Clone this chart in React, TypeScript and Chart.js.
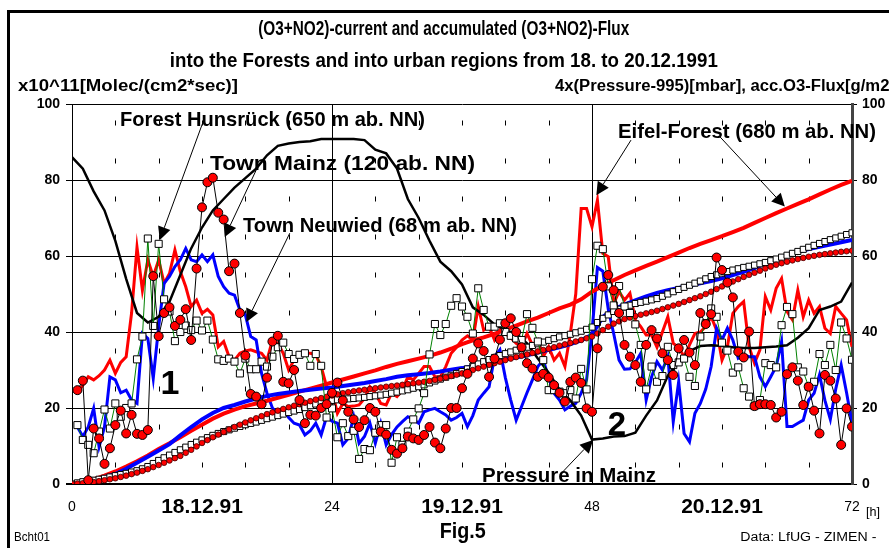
import React, { useEffect, useRef } from 'react';
import { Chart, registerables } from 'chart.js';

Chart.register(...registerables);

const FONT = "'Liberation Sans', Arial, Helvetica, sans-serif";

// ---------- data (hours; values on the 0..100 scale) ----------
// current series: half-hourly from 0.5 h to 72 h
const hoursHalf = Array.from({ length: 144 }, (_, i) => 0.5 + i * 0.5);
// accumulated marker series: half-hourly from 0 h to 72 h
const hoursHalf0 = Array.from({ length: 145 }, (_, i) => i * 0.5);
// hourly series
const hoursFull = Array.from({ length: 73 }, (_, i) => i);

const mainzCurrent = [
  24.7, 27.2, 1, 14.6, 12, 5.3, 9.4, 15.5, 19.3, 13.3, 18.2, 13.2,
  12.9, 14.2, 54.7, 38.9, 45, 46.5, 41.6, 43.2, 46, 37.9, 56.7, 72.8,
  79.4, 80.6, 71.4, 69.6, 56, 58, 45, 33.8, 23.7, 23, 21, 28,
  37.5, 39, 26.9, 26.5, 30, 22.1, 16, 18.2, 18, 20, 21, 24,
  26.7, 22, 19, 17, 15, 16.8, 20, 19, 13.8, 13, 9, 8,
  9.4, 12.5, 12, 11.6, 12.9, 15, 10.9, 9.4, 14.6, 20, 20, 25.2,
  29, 33, 37, 35, 28.2, 33, 38, 42.3, 43.6, 40, 36, 31.8,
  30.4, 28.2, 29, 28, 26, 24, 21.7, 26.9, 28, 26.6, 19.9, 19,
  35.7, 51.9, 55, 51, 45, 36.6, 33.5, 31.3, 26.9, 36.6, 40.5, 38.3,
  34.4, 32.6, 28.7, 35.7, 37.9, 34.6, 31.3, 45, 42.1, 44.7, 59.6, 56.3,
  53, 49.1, 34.8, 33.3, 40.1, 20.5, 21, 21, 20.8, 17.5, 19, 28.9,
  30.7, 27.2, 20.8, 25.6, 19.3, 13.3, 28.7, 27.2, 22.5, 10.3, 19.9, 15.1,
];

const neuwiedCurrent = [
  15.5, 11.6, 10.3, 8.1, 13.8, 19.6, 14.6, 21.2, 17.7, 20, 21.2, 32.8,
  38.8, 64.6, 41.6, 63.2, 48.6, 45.4, 37.6, 40, 41.7, 40.5, 43, 40.4,
  43, 38, 32.8, 32.4, 33, 32.2, 29.1, 33, 30.2, 30.2, 32.2, 30.9,
  33.5, 36, 37.2, 34.2, 32.9, 34, 34.4, 31.1, 34.2, 31.1, 17.5, 19.9,
  12.3, 16, 12.6, 14, 6.6, 9.2, 8.9, 13.5, 15.5, 15.5, 5.6, 12.3,
  10.3, 13.8, 17, 19.9, 23.9, 34.1, 42.1, 39.2, 42.1, 46.9, 48.9, 46.7,
  44, 39.6, 51.5, 45.8, 41.4, 41.4, 42.3, 40, 39, 38.3, 37.9, 44.7,
  41.1, 37.5, 32.6, 24.7, 24.7, 24.3, 23.9, 24.7, 22.5, 30.3, 24.9, 53.9,
  62.7, 61.8, 52, 47, 52.1, 46.7, 45, 42, 36.6, 24.9, 30.9, 26.9,
  28.4, 36.1, 31.3, 32, 33, 28.2, 25.8, 38.8, 42.3, 46.2, 44, 37.2,
  35.1, 29.3, 30.7, 25.2, 23, 20.5, 22.1, 31.8, 31.3, 30.7, 41.8, 46.6,
  44.7, 30.7, 29.6, 25.6, 26.9, 34.2, 31.3, 36.6, 30, 42.5, 38.3, 32.7,
];

const hunsrueckCurrent = [
  15, 12.5, 15, 19.9, 9.8, 15, 28.2, 27.4, 24, 24.7, 22.1, 21.2,
  39.6, 38.3, 27.8, 41.4, 52.8, 54.6, 57.2, 59, 62, 59, 58.5, 60.3,
  58.5, 60.3, 54.6, 51.9, 50.2, 49.7, 45.8, 44.5, 38.8, 37.9, 29.1, 23.9,
  20, 18.6, 19.9, 17.5, 16, 15.5, 12.9, 14, 16, 12.9, 17.7, 16.5,
  16, 10.3, 12, 17.7, 10.7, 12.5, 16, 10.7, 16, 10.3, 13, 15,
  16.4, 17.7, 17, 16, 19, 19.5, 19.9, 19, 18.2, 16.8, 17.5, 18.6,
  15.1, 18, 22.1, 23.9, 25.6, 33.5, 35.3, 28, 22.1, 16.8, 20.4, 24,
  27.4, 30.9, 32.6, 28, 23.9, 22.1, 19.5, 20.5, 21.2, 23.9, 27.4, 40,
  57, 56, 46, 39.6, 32.6, 30.2, 30.3, 32, 34.4, 22.1, 28.2, 32.2,
  30, 33.5, 16.4, 26.9, 13.3, 11.1, 18.6, 21.2, 25, 30.9, 41, 37.9,
  41, 37.9, 33.1, 34, 33.5, 33.5, 28.2, 25.6, 28.2, 30.9, 37.5, 15.1,
  15.1, 16, 16.8, 22.1, 23.9, 28.7, 22, 17, 25, 31.3, 24, 16,
];

const eifelCurrent = [
  23.9, 26, 28.2, 27.4, 28.5, 30, 32.6, 29.1, 32, 33.5, 45, 62.3,
  51, 59, 54.6, 59, 52.8, 55.4, 61.6, 55.9, 51.9, 46.7, 48.4, 44.9,
  46, 44.5, 36.1, 37.5, 33.5, 32.6, 34.4, 35, 35.3, 34.8, 34.4, 32.6,
  37.9, 37, 34.4, 30, 32.6, 34.4, 34.4, 34.4, 34, 30.9, 25.6, 24.7,
  18.6, 21.2, 20.4, 20.5, 20.8, 22.5, 25.6, 23.9, 21.2, 20.8, 23.9, 23,
  24.7, 28.2, 27.4, 29.1, 30.9, 30.9, 28.2, 28.2, 30.9, 34.4, 36, 37.9,
  39, 37.9, 46.7, 40.5, 41.4, 37.9, 40.5, 39.6, 38.5, 37, 36.1, 39.6,
  36.6, 37.9, 33.5, 36.1, 32.6, 34.4, 30.9, 39.6, 50, 72.5, 72.5, 67.7,
  74.7, 60.7, 59.8, 47.5, 50.6, 48.4, 50.2, 43.2, 41.4, 39.2, 39.2, 36,
  40, 44, 37, 36, 33.5, 36.6, 39.6, 40, 41.4, 44, 40.5, 32.6,
  36.1, 44.9, 46.7, 48, 36.1, 31.8, 35.3, 49.3, 45.8, 51.5, 54.1, 45.4,
  43.2, 51, 44, 48.4, 44.9, 46.7, 41, 39.6, 46.7, 44.9, 43.2, 36.1,
];

// 4x(Pressure-995) in Mainz, hourly
const pressureMainz = [
  86, 83, 77, 72, 64, 54, 45, 42.5, 44, 48,
  55, 62, 67.5, 72, 75, 78, 80.5, 83, 86.5, 89,
  89.6, 90, 90.2, 90.8, 90.8, 90.8, 90.8, 90.5, 88, 87,
  83, 75, 70, 64, 58.5, 56, 52.5, 46.5, 44.5, 42,
  40.5, 39.5, 37, 33, 29.3, 24.8, 22, 18, 11.7, 12,
  12.5, 12.6, 13.5, 18, 22, 28.5, 32, 35, 36.3, 36.5,
  36.3, 36, 35.8, 35.8, 36, 36.2, 36.5, 38.5, 41, 45.8,
  46.7, 48, 53,
];

// accumulated flux, hourly
const eifelAccum = [
  0, 0.4, 1.2, 2.2, 3.3, 4.6, 6, 7.5, 9.2, 10.7,
  12.3, 14, 15.6, 17.2, 18.5, 19.6, 20.5, 21.2, 21.9, 22.7,
  23.5, 24.3, 25.1, 25.9, 26.7, 27.5, 28.3, 29.1, 29.9, 30.8,
  31.6, 32.3, 33, 33.7, 34.6, 35.6, 36.8, 37.8, 38.6, 39.5,
  40.6, 41.7, 42.8, 43.8, 45, 46.2, 47.2, 48.6, 50.6, 52.2,
  53.6, 55, 56.2, 57.4, 58.5, 59.7, 60.9, 62.1, 63.2, 64.2,
  65.2, 66.3, 67.4, 68.7, 70, 71.3, 72.5, 73.7, 74.9, 76.2,
  77.5, 78.7, 79.8,
];
const hunsrueckAccum = [
  0, 0.3, 1, 1.8, 2.6, 4, 5.6, 7.2, 8.8, 10.5,
  12.8, 15, 17, 18.7, 20, 20.8, 21.7, 22.5, 23.2, 23.7,
  24.1, 24.5, 24.8, 25.1, 25.4, 25.8, 26.2, 26.6, 27.1, 27.6,
  28.2, 28.6, 28.9, 29.2, 29.6, 30.1, 30.5, 31, 31.5, 32.1,
  32.8, 33.3, 33.9, 34.6, 35.3, 36, 36.8, 37.8, 39.3, 44,
  46, 47.2, 48.3, 49.4, 50.3, 51, 51.6, 52.2, 52.8, 53.4,
  54.1, 55, 55.8, 56.8, 58, 59.2, 60.2, 61.1, 61.8, 62.4,
  63, 63.6, 64.2,
];
// accumulated flux, half-hourly (marker series)
const neuwiedAccum = [
  0, 0.3, 0.6, 0.8, 1, 1.25, 1.5, 1.85, 2.2, 2.5,
  2.8, 3.15, 3.5, 4, 4.6, 5.4, 6.2, 6.9, 7.6, 8.3,
  9, 9.7, 10.4, 11, 11.6, 12.2, 12.8, 13.3, 13.8, 14.25,
  14.7, 15.15, 15.6, 15.95, 16.3, 16.75, 17.2, 17.6, 18, 18.4,
  18.8, 19.2, 19.6, 20.1, 20.6, 21.05, 21.5, 21.75, 22, 22.15,
  22.3, 22.4, 22.5, 22.65, 22.8, 23, 23.2, 23.4, 23.6, 23.9,
  24.2, 24.5, 24.8, 25.2, 25.6, 26.1, 26.6, 27.1, 27.6, 28.1,
  28.6, 29.1, 29.6, 30.3, 31, 31.6, 32.2, 32.75, 33.3, 33.8,
  34.3, 34.75, 35.2, 35.6, 36, 36.45, 36.9, 37.35, 37.8, 38.25,
  38.7, 39.05, 39.4, 39.8, 40.2, 40.7, 41.3, 42.5, 43.6, 44.5,
  45.4, 46, 46.6, 47.05, 47.5, 47.8, 48.1, 48.45, 48.8, 49.4,
  50, 50.6, 51.2, 51.75, 52.3, 52.85, 53.4, 54, 54.6, 55.05,
  55.5, 55.9, 56.3, 56.65, 57, 57.3, 57.6, 57.95, 58.3, 58.75,
  59.2, 59.7, 60.2, 60.7, 61.2, 61.75, 62.3, 62.8, 63.3, 63.8,
  64.3, 64.75, 65.2, 65.65, 66.1,
];
const mainzAccum = [
  0, 0.1, 0.2, 0.35, 0.5, 0.75, 1, 1.25, 1.5, 1.85,
  2.2, 2.6, 3, 3.45, 3.9, 4.45, 5, 5.6, 6.2, 6.8,
  7.4, 8.2, 9, 9.9, 10.8, 11.55, 12.3, 13, 13.7, 14.35,
  15, 15.6, 16.2, 16.75, 17.3, 17.85, 18.4, 18.85, 19.3, 19.75,
  20.2, 20.6, 21, 21.4, 21.8, 22.2, 22.6, 22.95, 23.3, 23.6,
  23.9, 24.15, 24.4, 24.6, 24.8, 25, 25.2, 25.4, 25.6, 25.75,
  25.9, 26.1, 26.3, 26.5, 26.7, 26.9, 27.1, 27.4, 27.7, 28.05,
  28.4, 28.75, 29.1, 29.55, 30, 30.45, 30.9, 31.35, 31.8, 32.2,
  32.6, 33, 33.4, 33.75, 34.1, 34.5, 34.9, 35.25, 35.6, 36,
  36.4, 36.75, 37.1, 37.5, 37.9, 38.35, 38.8, 39.6, 40.5, 41.4,
  42.2, 42.8, 43.4, 43.8, 44.2, 44.55, 44.9, 45.25, 45.6, 46.05,
  46.5, 46.95, 47.4, 47.9, 48.4, 48.9, 49.4, 50, 50.6, 51.3,
  52, 52.65, 53.3, 53.9, 54.5, 55.05, 55.6, 56.15, 56.7, 57.2,
  57.7, 58.1, 58.5, 58.85, 59.2, 59.5, 59.8, 60.05, 60.3, 60.5,
  60.7, 60.9, 61.1, 61.25, 61.4,
];

// axis ticks
const xTickValues = [0, 12, 24, 36, 48, 60, 72];
const xTickLabels = ['0', '18.12.91', '24', '19.12.91', '48', '20.12.91', '72'];
const dashedHours = [4, 8, 12, 16, 20, 28, 32, 36, 40, 44, 52, 56, 60, 64, 68];
const solidHours = [24, 48];
const dashLevels = [5, 15, 25, 35, 45, 55, 65, 75, 85, 95];

// annotation arrows (data coordinates: [hour, value])
const arrows = [
  { from: [12.1, 95.3], to: [8.1, 64.2] },
  { from: [17.0, 82.6], to: [14.1, 65.0] },
  { from: [20.1, 66.0], to: [16.1, 42.6] },
  { from: [51.6, 90.5], to: [48.4, 76.0] },
  { from: [59.8, 91.4], to: [65.8, 73.0] },
  { from: [45.3, 3.2], to: [48.1, 11.6] },
];

const zip = (xs: number[], ys: number[]) => ys.map((y, i) => ({ x: xs[i], y }));

const decorPlugin = {
  id: 'decor',
  beforeDatasetsDraw(chart: any) {
    const { ctx, chartArea: a, scales } = chart;
    const x = scales.x;
    const y = scales.y;
    ctx.save();
    ctx.strokeStyle = '#000';
    ctx.lineWidth = 1;
    for (const h of dashedHours) {
      const px = Math.round(x.getPixelForValue(h)) + 0.5;
      for (const lv of dashLevels) {
        const py = y.getPixelForValue(lv);
        ctx.beginPath();
        ctx.moveTo(px, py - 2.5);
        ctx.lineTo(px, py + 2.5);
        ctx.stroke();
      }
    }
    for (const h of solidHours) {
      const px = Math.round(x.getPixelForValue(h)) + 0.5;
      ctx.beginPath();
      ctx.moveTo(px, a.top);
      ctx.lineTo(px, a.bottom);
      ctx.stroke();
    }
    ctx.restore();
  },
  afterDatasetsDraw(chart: any) {
    const { ctx, scales } = chart;
    const x = scales.x;
    const y = scales.y;
    ctx.save();
    ctx.strokeStyle = '#000';
    ctx.fillStyle = '#000';
    ctx.lineWidth = 1;
    for (const ar of arrows) {
      const x1 = x.getPixelForValue(ar.from[0]);
      const y1 = y.getPixelForValue(ar.from[1]);
      const x2 = x.getPixelForValue(ar.to[0]);
      const y2 = y.getPixelForValue(ar.to[1]);
      const ang = Math.atan2(y2 - y1, x2 - x1);
      const L = 13;
      const Wd = 6.5;
      const bx = x2 - L * Math.cos(ang);
      const by = y2 - L * Math.sin(ang);
      ctx.beginPath();
      ctx.moveTo(x1, y1);
      ctx.lineTo(bx, by);
      ctx.stroke();
      ctx.beginPath();
      ctx.moveTo(x2, y2);
      ctx.lineTo(bx + Wd * Math.sin(ang), by - Wd * Math.cos(ang));
      ctx.lineTo(bx - Wd * Math.sin(ang), by + Wd * Math.cos(ang));
      ctx.closePath();
      ctx.fill();
    }
    ctx.restore();
  },
};

let measureCtx: CanvasRenderingContext2D | null = null;
function measure(text: string, font: string): number {
  if (!measureCtx) measureCtx = document.createElement('canvas').getContext('2d');
  measureCtx!.font = font;
  return measureCtx!.measureText(text).width;
}

type LabelProps = {
  text: string;
  x: number;
  cy: number;
  size: number;
  bold?: boolean;
  w?: number;
  align?: 'left' | 'center' | 'right';
};

function Label({ text, x, cy, size, bold, w, align = 'left' }: LabelProps) {
  const weight = bold ? 'bold' : 'normal';
  const font = `${weight} ${size}px ${FONT}`;
  const m = measure(text, font);
  const s = w ? w / m : 1;
  const left = align === 'left' ? x : align === 'right' ? x - m : x - m / 2;
  return (
    <div
      style={{
        position: 'absolute',
        left,
        top: cy - size / 2,
        fontFamily: FONT,
        fontSize: size,
        fontWeight: weight as any,
        lineHeight: `${size}px`,
        whiteSpace: 'nowrap',
        color: '#000',
        transform: `scaleX(${s})`,
        transformOrigin: `${align} center`,
      }}
    >
      {text}
    </div>
  );
}

export default function App() {
  const ref = useRef<HTMLCanvasElement>(null);

  useEffect(() => {
    const datasets: any[] = [
      {
        label: 'Town Mainz',
        data: zip(hoursHalf, mainzCurrent),
        borderColor: '#000',
        borderWidth: 1,
        pointStyle: 'circle',
        pointRadius: 4.5,
        pointBackgroundColor: '#ff0000',
        pointBorderColor: '#000',
        pointBorderWidth: 1,
        order: 1,
      },
      {
        label: 'Town Neuwied',
        data: zip(hoursHalf, neuwiedCurrent),
        borderColor: '#008000',
        borderWidth: 1,
        pointStyle: 'rect',
        pointRadius: 5,
        pointBackgroundColor: '#ffffff',
        pointBorderColor: '#000',
        pointBorderWidth: 1,
        order: 2,
      },
      {
        label: 'acc. Mainz',
        data: zip(hoursHalf0, mainzAccum),
        borderColor: '#000',
        borderWidth: 1,
        pointStyle: 'circle',
        pointRadius: 2.8,
        pointBackgroundColor: '#ff0000',
        pointBorderColor: '#400000',
        pointBorderWidth: 0.8,
        order: 3,
      },
      {
        label: 'acc. Neuwied',
        data: zip(hoursHalf0, neuwiedAccum),
        borderColor: '#000',
        borderWidth: 1,
        pointStyle: 'rect',
        pointRadius: 4.3,
        pointBackgroundColor: '#ffffff',
        pointBorderColor: '#000',
        pointBorderWidth: 1,
        order: 4,
      },
      {
        label: 'Pressure in Mainz',
        data: zip(hoursFull, pressureMainz),
        borderColor: '#000',
        borderWidth: 2.5,
        pointRadius: 0,
        order: 5,
      },
      {
        label: 'acc. Hunsrück',
        data: zip(hoursFull, hunsrueckAccum),
        borderColor: '#0000ff',
        borderWidth: 4,
        pointRadius: 0,
        order: 6,
      },
      {
        label: 'acc. Eifel',
        data: zip(hoursFull, eifelAccum),
        borderColor: '#ff0000',
        borderWidth: 4,
        pointRadius: 0,
        order: 7,
      },
      {
        label: 'Forest Hunsrück',
        data: zip(hoursHalf, hunsrueckCurrent),
        borderColor: '#0000ff',
        borderWidth: 3,
        pointRadius: 0,
        order: 8,
      },
      {
        label: 'Eifel-Forest',
        data: zip(hoursHalf, eifelCurrent),
        borderColor: '#ff0000',
        borderWidth: 3,
        pointRadius: 0,
        order: 9,
      },
    ];

    const chart = new Chart(ref.current!, {
      type: 'line',
      data: { datasets },
      plugins: [decorPlugin],
      options: {
        responsive: false,
        animation: false,
        devicePixelRatio: 1,
        layout: { padding: { top: 104, left: 0, right: 0, bottom: 0 } },
        plugins: { legend: { display: false }, title: { display: false }, tooltip: { enabled: false } },
        elements: { line: { tension: 0 } },
        scales: {
          x: {
            type: 'linear',
            min: 0,
            max: 72,
            position: 'bottom',
            afterBuildTicks: (s: any) => {
              s.ticks = xTickValues.map((v) => ({ value: v }));
            },
            afterFit: (s: any) => {
              s.height = 64;
            },
            grid: { display: false, drawTicks: false },
            border: { display: true, color: '#000', width: 2 },
            ticks: {
              autoSkip: false,
              maxRotation: 0,
              padding: 10,
              color: '#000',
              font: (c: any) =>
                c.tick && c.tick.value % 24 === 0
                  ? { family: FONT, size: 14, weight: 'normal', lineHeight: 26 / 14 }
                  : { family: FONT, size: 21, weight: 'bold', lineHeight: 26 / 21 },
              callback: (v: any) => {
                const i = xTickValues.indexOf(Number(v));
                return i >= 0 ? xTickLabels[i] : '';
              },
            },
          },
          y: {
            type: 'linear',
            min: 0,
            max: 100,
            position: 'left',
            afterFit: (s: any) => {
              s.width = 72;
            },
            grid: {
              color: '#000',
              lineWidth: (c: any) => (c.tick && c.tick.value === 0 ? 2 : 1),
              drawTicks: true,
              tickLength: 6,
            },
            border: { display: true, color: '#000', width: 1 },
            ticks: {
              stepSize: 20,
              padding: 6,
              color: '#000',
              font: { family: FONT, size: 14, weight: 'bold' },
            },
          },
          y2: {
            type: 'linear',
            min: 0,
            max: 100,
            position: 'right',
            afterFit: (s: any) => {
              s.width = 37;
            },
            grid: { drawOnChartArea: false, drawTicks: true, tickLength: 5, color: '#000' },
            border: { display: true, color: '#444', width: 3 },
            ticks: {
              stepSize: 20,
              padding: 5,
              color: '#000',
              font: { family: FONT, size: 14, weight: 'bold' },
            },
          },
        },
      } as any,
    });
    return () => chart.destroy();
  }, []);

  return (
    <div
      style={{
        position: 'fixed',
        left: 0,
        top: 0,
        width: 889,
        height: 548,
        overflow: 'hidden',
        background: '#fff',
      }}
    >
      <canvas ref={ref} width={889} height={548} style={{ position: 'absolute', left: 0, top: 0 }} />
      <div
        style={{
          position: 'absolute',
          left: 7,
          top: 10,
          width: 1000,
          height: 1000,
          borderTop: '3px solid #000',
          borderLeft: '3px solid #000',
          boxSizing: 'border-box',
        }}
      />
      <Label text="(O3+NO2)-current and accumulated (O3+NO2)-Flux" x={444} cy={28} size={20} bold w={371} align="center" />
      <Label text="into the Forests and into urban regions from 18. to 20.12.1991" x={444} cy={60} size={20} bold w={548} align="center" />
      <Label text="x10^11[Molec/(cm2*sec)]" x={18} cy={86} size={16} bold w={220} />
      <Label text="4x(Pressure-995)[mbar], acc.O3-Flux[g/m2]" x={555} cy={86} size={16} bold w={340} />
      <Label text="Forest Hunsrück (650 m ab. NN)" x={120} cy={118} size={21} bold w={305} />
      <Label text="Town Mainz (120 ab. NN)" x={210} cy={162} size={21} bold w={265} />
      <Label text="Town Neuwied (68 m ab. NN)" x={243} cy={224} size={21} bold w={274} />
      <Label text="Eifel-Forest (680 m ab. NN)" x={618} cy={130} size={21} bold w={258} />
      <Label text="Pressure in Mainz" x={482} cy={474} size={21} bold w={174} />
      <Label text="1" x={170} cy={382} size={34} bold align="center" />
      <Label text="2" x={617} cy={423} size={33} bold align="center" />
      <Label text="[h]" x={866} cy={511} size={13} w={14} />
      <Label text="Bcht01" x={14} cy={536} size={13} w={36} />
      <Label text="Fig.5" x={463} cy={531} size={22} bold w={46} align="center" />
      <Label text="Data: LfUG - ZIMEN -" x={876} cy={537} size={12} w={136} align="right" />
    </div>
  );
}
